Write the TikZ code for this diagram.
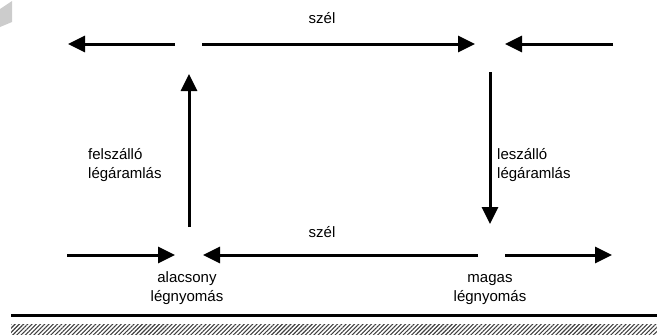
\documentclass[tikz,border=0pt]{standalone}
\usepackage{fontspec}
\setmainfont{Liberation Sans}
\usetikzlibrary{arrows.meta,patterns.meta}
\begin{document}
\begin{tikzpicture}[x=1pt,y=-1pt,
  flow/.style={line width=3pt,-{Triangle[length=17pt,width=16pt]}},
  lbl/.style={font=\fontsize{15}{19}\selectfont,inner sep=0pt}]
\useasboundingbox (0,0) rectangle (657,335);
% corner mark
\fill[gray!40] (0,9) -- (12,1) -- (12,22) -- (0,27) -- cycle;
% points
\coordinate (tl0) at (175,44); \coordinate (tl1) at (68,44);
\coordinate (tm0) at (202,44); \coordinate (tm1) at (475,44);
\coordinate (tr0) at (613,44); \coordinate (tr1) at (505,44);
\coordinate (up0) at (189,227); \coordinate (up1) at (189,74);
\coordinate (dn0) at (490,72); \coordinate (dn1) at (490,224);
\coordinate (bl0) at (67,255); \coordinate (bl1) at (175,255);
\coordinate (bm0) at (478,255); \coordinate (bm1) at (203,255);
\coordinate (br0) at (505,255); \coordinate (br1) at (612,255);
\draw[flow] (tl0) -- (tl1);
\draw[flow] (tm0) -- (tm1);
\draw[flow] (tr0) -- (tr1);
\draw[flow] (up0) -- (up1);
\draw[flow] (dn0) -- (dn1);
\draw[flow] (bl0) -- (bl1);
\draw[flow] (bm0) -- (bm1);
\draw[flow] (br0) -- (br1);
% labels
\node[lbl,anchor=base] (sz1) at (322,23) {szél};
\node[lbl,anchor=base] (sz2) at (322,237) {szél};
\node[lbl,anchor=base west,align=left] (fel) at (88,178) {felszálló\\légáramlás};
\node[lbl,anchor=base west,align=left] (le) at (497,178) {leszálló\\légáramlás};
\node[lbl,anchor=base,align=center] (alc) at (187,301) {alacsony\\légnyomás};
\node[lbl,anchor=base,align=center] (mag) at (490,301) {magas\\légnyomás};
% ground
\draw[line width=3pt] (11,315) -- (657,315);
\fill[pattern={Lines[angle=45,distance=3pt,line width=1.1pt]},pattern color=black!75] (11,324) rectangle (657,335);
\end{tikzpicture}
\end{document}
